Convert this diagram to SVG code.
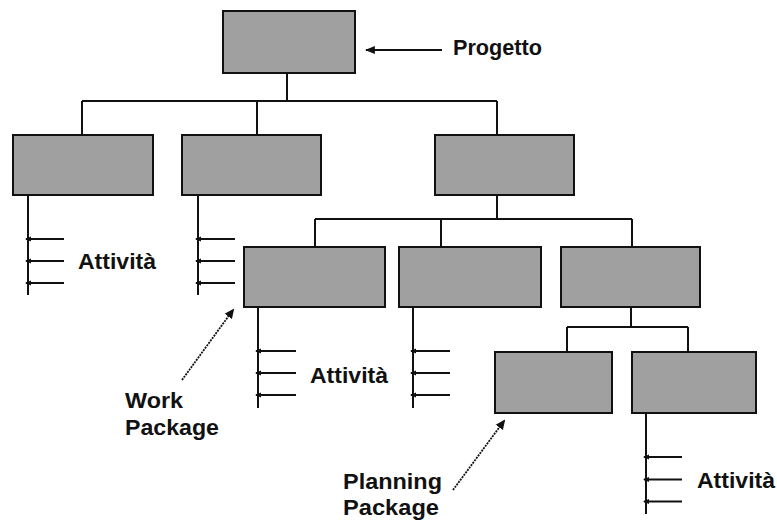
<svg xmlns="http://www.w3.org/2000/svg" width="777" height="520" viewBox="0 0 777 520">
<defs>
<style>
.box{fill:#a0a0a0;stroke:#111;stroke-width:2}
.ln{stroke:#111;stroke-width:2;fill:none}
.act{stroke:#111;stroke-width:2;fill:none;marker-end:url(#ah)}
.dot{stroke:#111;stroke-width:1.8;stroke-dasharray:2 1;fill:none;marker-end:url(#ah2)}
.lbl{font-family:"Liberation Sans",Arial,sans-serif;font-weight:bold;font-size:22px;fill:#111}
</style>
<marker id="ah" markerWidth="6" markerHeight="6" refX="5" refY="3" orient="auto" markerUnits="userSpaceOnUse" viewBox="0 0 6 6">
<path d="M0,0.5 L6,3 L0,5.5 Z" fill="#111"/>
</marker>
<marker id="ah2" markerWidth="10" markerHeight="10" refX="8" refY="4.5" orient="auto" markerUnits="userSpaceOnUse" viewBox="0 0 10 9">
<path d="M0,0 L10,4.5 L0,9 Z" fill="#111"/>
</marker>
<marker id="ah3" markerWidth="10" markerHeight="8" refX="8" refY="3.5" orient="auto" markerUnits="userSpaceOnUse" viewBox="0 0 9 7">
<path d="M0,0 L9,3.5 L0,7 Z" fill="#111"/>
</marker>
</defs>
<rect width="777" height="520" fill="#fff"/>
<g id="connectors">
<path class="ln" d="M287,73 V101 M82,101 H497 M82,101 V135 M257,101 V135 M497,101 V135"/>
<path class="ln" d="M497,195 V219 M315,219 H632 M315,219 V247 M441,219 V247 M632,219 V247"/>
<path class="ln" d="M631,307 V327 M567,327 H688 M567,327 V352 M688,327 V352"/>
<path class="ln" d="M28,195 V295 M198,195 V295 M258,307 V408 M413,307 V408 M646,413 V514"/>
<line class="act" x1="64" y1="239" x2="26" y2="239"/>
<line class="act" x1="64" y1="261" x2="26" y2="261"/>
<line class="act" x1="64" y1="283" x2="26" y2="283"/>
<line class="act" x1="235" y1="239" x2="196" y2="239"/>
<line class="act" x1="235" y1="261" x2="196" y2="261"/>
<line class="act" x1="235" y1="283" x2="196" y2="283"/>
<line class="act" x1="296" y1="351" x2="256" y2="351"/>
<line class="act" x1="296" y1="373" x2="256" y2="373"/>
<line class="act" x1="296" y1="395" x2="256" y2="395"/>
<line class="act" x1="450" y1="351" x2="411" y2="351"/>
<line class="act" x1="450" y1="373" x2="411" y2="373"/>
<line class="act" x1="450" y1="395" x2="411" y2="395"/>
<line class="act" x1="682" y1="457" x2="644" y2="457"/>
<line class="act" x1="682" y1="479.5" x2="644" y2="479.5"/>
<line class="act" x1="682" y1="501.5" x2="644" y2="501.5"/>
<line class="ln" x1="442" y1="50" x2="366" y2="50" style="marker-end:url(#ah3)"/>
<line class="dot" x1="182" y1="380" x2="233" y2="310"/>
<line class="dot" x1="453" y1="490" x2="504" y2="421"/>
</g>
<g id="progetto"><rect class="box" x="223" y="11" width="132" height="62"/></g>
<g id="n1"><rect class="box" x="13" y="135" width="140" height="60"/></g>
<g id="n2"><rect class="box" x="182" y="135" width="139" height="60"/></g>
<g id="n3"><rect class="box" x="435" y="135" width="139" height="60"/></g>
<g id="n31"><rect class="box" x="244" y="247" width="141" height="60"/></g>
<g id="n32"><rect class="box" x="399" y="247" width="142" height="60"/></g>
<g id="n33"><rect class="box" x="561" y="247" width="139" height="60"/></g>
<g id="n331"><rect class="box" x="495" y="352" width="117" height="61"/></g>
<g id="n332"><rect class="box" x="632" y="352" width="124" height="61"/></g>
<g id="labels">
<text class="lbl" x="453" y="54.5" textLength="89" lengthAdjust="spacingAndGlyphs">Progetto</text>
<text class="lbl" x="78" y="269" textLength="78" lengthAdjust="spacingAndGlyphs">Attività</text>
<text class="lbl" x="310" y="382.5" textLength="78" lengthAdjust="spacingAndGlyphs">Attività</text>
<text class="lbl" x="697" y="488" textLength="78" lengthAdjust="spacingAndGlyphs">Attività</text>
<text class="lbl" x="125" y="408" textLength="58" lengthAdjust="spacingAndGlyphs">Work</text>
<text class="lbl" x="125" y="435" textLength="94" lengthAdjust="spacingAndGlyphs">Package</text>
<text class="lbl" x="343" y="489" textLength="99" lengthAdjust="spacingAndGlyphs">Planning</text>
<text class="lbl" x="343" y="515" textLength="96" lengthAdjust="spacingAndGlyphs">Package</text>
</g>
</svg>
